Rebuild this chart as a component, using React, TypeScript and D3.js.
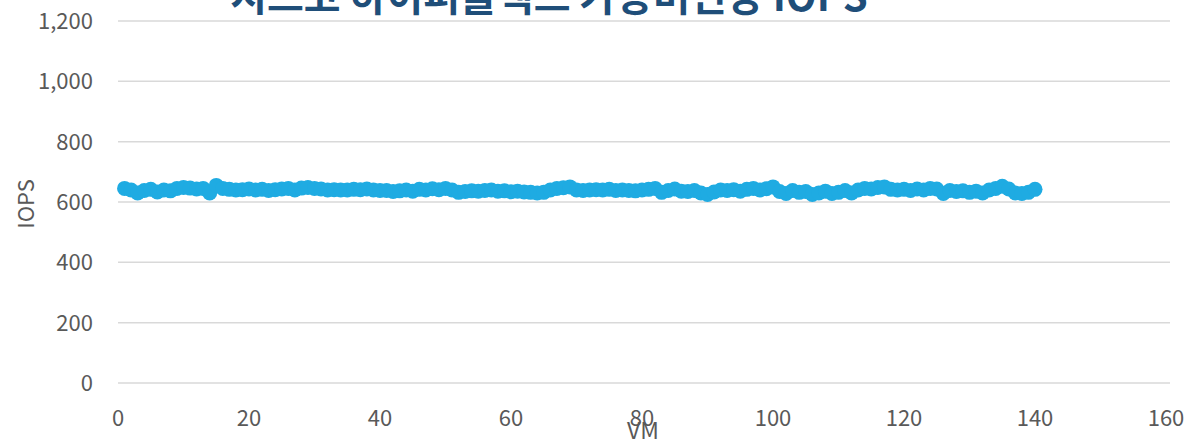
import React from 'react';
import * as d3 from 'd3';

const TITLE = '시스코 하이퍼플렉스 가상머신당 IOPS';
const X_LABEL = 'VM';
const Y_LABEL = 'IOPS';

const xTicks = [0, 20, 40, 60, 80, 100, 120, 140, 160];
const yTicks = [0, 200, 400, 600, 800, 1000, 1200];

// IOPS per VM, VM 1..140
const iops = [
  645, 640, 630, 638, 642, 633, 640, 637, 645, 648,
  646, 643, 645, 630, 655, 645, 642, 640, 641, 643,
  640, 642, 638, 641, 643, 645, 640, 646, 648, 645,
  643, 640, 641, 640, 640, 642, 641, 643, 640, 638,
  638, 635, 637, 640, 636, 642, 640, 644, 641, 645,
  640, 632, 635, 637, 636, 638, 640, 636, 637, 634,
  636, 633, 632, 630, 632, 640, 645, 647, 650, 640,
  638, 640, 641, 640, 642, 638, 640, 638, 637, 640,
  642, 645, 632, 638, 643, 636, 635, 638, 630, 625,
  633, 640, 638, 641, 636, 642, 645, 640, 644, 650,
  635, 628, 638, 632, 635, 625, 630, 636, 628, 632,
  638, 630, 640, 645, 643, 648, 650, 642, 640, 642,
  638, 643, 640, 645, 643, 628, 638, 635, 637, 632,
  636, 630, 640, 645, 652, 643, 630, 628, 632, 642,
];

const W = 1193;
const H = 439;
const FONT = '"Noto Sans CJK KR", "Noto Sans", sans-serif';
const BLUE = '#1fabe2';

const App: React.FC = () => {
  const x = d3.scaleLinear().domain([0, 160]).range([118, 1166]);
  const y = d3.scaleLinear().domain([0, 1200]).range([383, 21]);

  const pts = iops.map((v, i) => [i + 1, v] as [number, number]);
  const line = d3.line<[number, number]>()
    .x(d => x(d[0]))
    .y(d => y(d[1]));

  return (
    <svg width={W} height={H} style={{ position: 'absolute', left: 0, top: 0, background: '#fff' }}>
      {/* gridlines */}
      {yTicks.map(t => (
        <line key={t} x1={118} x2={1170} y1={y(t)} y2={y(t)} stroke="#d9d9d9" strokeWidth={1.5} />
      ))}
      {/* y tick labels */}
      {yTicks.map(t => (
        <text key={t} x={93} y={y(t) + 8} textAnchor="end" fontSize={22} fill="#595959" fontFamily={FONT}>
          {d3.format(',')(t)}
        </text>
      ))}
      {/* x tick labels */}
      {xTicks.map(t => (
        <text key={t} x={x(t)} y={426} textAnchor="middle" fontSize={22} fill="#595959" fontFamily={FONT}>
          {t}
        </text>
      ))}
      {/* series */}
      <path d={line(pts) || ''} fill="none" stroke={BLUE} strokeWidth={7} />
      {pts.map((d, i) => (
        <circle key={i} cx={x(d[0])} cy={y(d[1])} r={7.5} fill={BLUE} />
      ))}
      {/* axis titles */}
      <text x={643} y={439} textAnchor="middle" fontSize={23} fill="#595959" fontFamily={FONT}>{X_LABEL}</text>
      <text transform={`translate(34,204) rotate(-90)`} textAnchor="middle" fontSize={22} fill="#595959" fontFamily={FONT}>{Y_LABEL}</text>
      {/* title (cut off by the top edge) */}
      <text x={549} y={11} textAnchor="middle" fontSize={40} fontWeight="bold" fill="#1f4e79" fontFamily={FONT}>{TITLE}</text>
    </svg>
  );
};

export default App;
